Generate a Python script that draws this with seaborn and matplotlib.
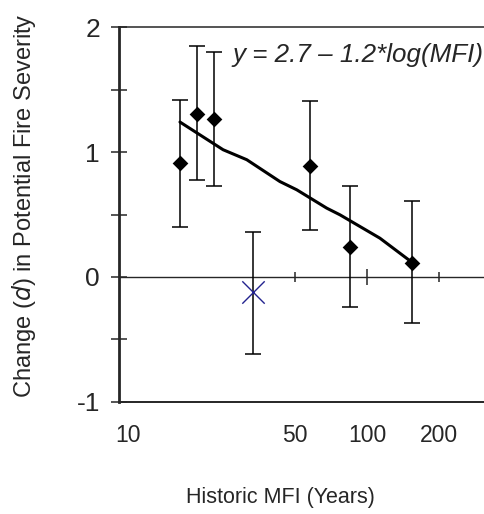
import numpy as np
import matplotlib
matplotlib.use("Agg")
import matplotlib.pyplot as plt
from matplotlib.ticker import NullLocator, NullFormatter
import seaborn as sns

# Data
mfi = [16.5, 19.5, 22.8, 57.9, 85.1, 154.8]
change = [0.91, 1.31, 1.27, 0.89, 0.24, 0.115]
err_hi = [1.42, 1.855, 1.80, 1.41, 0.73, 0.61]
err_lo = [0.40, 0.78, 0.73, 0.38, -0.24, -0.37]

# outlier (blue X)
out_mfi = [33.3]
out_change = [-0.123]
out_hi = [0.36]
out_lo = [-0.615]

# fitted trend line as drawn
trend_x = [16.5, 25.0, 31.4, 43.2, 50.8, 67.8, 77.1, 113.2, 154.8]
trend_y = [1.242, 1.02, 0.94, 0.765, 0.699, 0.552, 0.498, 0.311, 0.115]

xtick_vals = [10, 50, 100, 200]
ytick_vals = [-1, 0, 1, 2]
ytick_minor = [-0.5, 0.5, 1.5]

sns.set_style("ticks")
plt.rcParams['font.family'] = ['Liberation Sans', 'DejaVu Sans']

fig = plt.figure(figsize=(4.85, 5.14), dpi=100)
ax = fig.add_axes([119/485, 0.2185, 1 - 119/485, 0.728])

# error bars
ax.errorbar(mfi, change,
            yerr=[np.array(change) - np.array(err_lo), np.array(err_hi) - np.array(change)],
            fmt='none', ecolor='black', elinewidth=1.1, capsize=5.75, capthick=1.1, zorder=2)
ax.errorbar(out_mfi, out_change,
            yerr=[np.array(out_change) - np.array(out_lo), np.array(out_hi) - np.array(out_change)],
            fmt='none', ecolor='black', elinewidth=1.1, capsize=5.75, capthick=1.1, zorder=2)

sns.lineplot(x=trend_x, y=trend_y, color='black', lw=2.2, ax=ax, zorder=3)
sns.scatterplot(x=mfi, y=change, marker='D', s=64, color='black', linewidth=0, ax=ax, zorder=4)
sns.scatterplot(x=out_mfi, y=out_change, marker='x', s=260, color='#23238f', linewidth=1.0, ax=ax, zorder=4)

ax.set_xscale('log')
ax.set_xlim(9.17, 311.6)
ax.set_ylim(-1, 2)

# x axis: labels only, below the bottom line
ax.xaxis.set_minor_locator(NullLocator())
ax.set_xticks(xtick_vals)
ax.set_xticklabels([str(v) for v in xtick_vals], fontsize=16.5)
ax.tick_params(axis='x', length=0, pad=16)

# y axis
ax.set_yticks(ytick_vals)
ax.set_yticklabels([str(v) for v in ytick_vals], fontsize=19)
ax.set_yticks(ytick_minor, minor=True)
ax.tick_params(axis='y', which='both', direction='inout', length=11.5, width=1.1, pad=8)

ax.spines['left'].set_linewidth(2.0)
ax.spines['top'].set_linewidth(1.1)
ax.spines['bottom'].set_linewidth(1.4)
ax.spines['right'].set_visible(False)

# zero line with its own tick marks
sec = ax.secondary_xaxis(1/3, functions=(lambda v: v, lambda v: v))
sec.set_xticks([100])
sec.set_xticks([50, 200], minor=True)
sec.xaxis.set_major_formatter(NullFormatter())
sec.xaxis.set_minor_formatter(NullFormatter())
sec.tick_params(which='major', direction='inout', length=11.5, width=1.1)
sec.tick_params(which='minor', direction='inout', length=7.5, width=1.1)
for sp in sec.spines.values():
    sp.set_linewidth(1.0)

ax.set_ylabel('Change ($\\it{d}$) in Potential Fire Severity', fontsize=17)
ax.yaxis.set_label_coords(-0.222, 0.525)
ax.set_xlabel('Historic MFI (Years)', fontsize=15.5)
ax.xaxis.set_label_coords(0.44, -0.228)

ax.text(0.309, 0.9265, 'y = 2.7 \u2013 1.2*log(MFI)', transform=ax.transAxes,
        fontsize=18.7, fontstyle='italic', ha='left', va='center')

fig.savefig('out.png', dpi=100)
